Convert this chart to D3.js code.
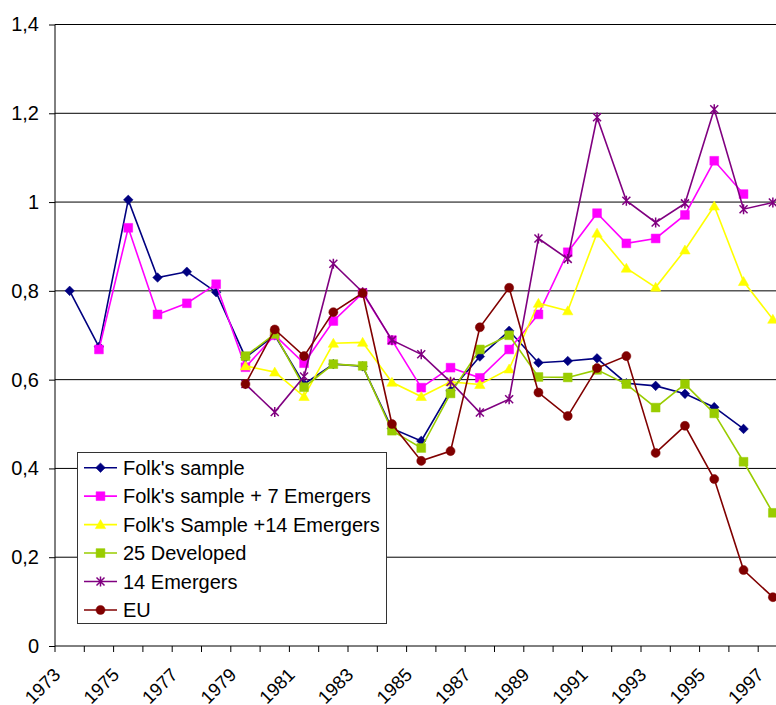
<!DOCTYPE html>
<html>
<head>
<meta charset="utf-8">
<script src="https://cdn.jsdelivr.net/npm/d3@7"></script>
<style>
  body { margin: 0; background: #fff; }
  text { font-family: "Liberation Sans", Arial, sans-serif; fill: #000; }
</style>
</head>
<body>
<script>
// categories
var years = d3.range(1973, 1998);
var yTicks = [0, 0.2, 0.4, 0.6, 0.8, 1.0, 1.2, 1.4];

// series values (null = no data)
var folk = [0.80, 0.674, 1.005, 0.83, 0.843, 0.797, 0.65, 0.70, 0.59, 0.635, 0.63, 0.49, 0.462, 0.575, 0.652, 0.71, 0.638, 0.642, 0.648, 0.592, 0.586, 0.568, 0.538, 0.489, null];
var folk7 = [null, 0.668, 0.942, 0.747, 0.772, 0.815, 0.628, 0.70, 0.637, 0.732, 0.795, 0.689, 0.582, 0.627, 0.604, 0.668, 0.747, 0.887, 0.975, 0.907, 0.918, 0.971, 1.093, 1.018, null];
var folk14 = [null, null, null, null, null, null, 0.631, 0.617, 0.562, 0.682, 0.684, 0.594, 0.562, 0.595, 0.589, 0.624, 0.772, 0.755, 0.93, 0.851, 0.808, 0.892, 0.991, 0.821, 0.736];
var developed = [null, null, null, null, null, null, 0.653, 0.703, 0.583, 0.635, 0.631, 0.485, 0.446, 0.569, 0.668, 0.70, 0.606, 0.605, 0.622, 0.59, 0.537, 0.59, 0.524, 0.415, 0.30];
var emergers = [null, null, null, null, null, null, 0.59, 0.527, 0.607, 0.861, 0.797, 0.689, 0.657, 0.595, 0.526, 0.556, 0.918, 0.872, 1.191, 1.003, 0.954, 0.997, 1.209, 0.984, 0.999];
var eu = [null, null, null, null, null, null, 0.59, 0.713, 0.653, 0.752, 0.795, 0.50, 0.417, 0.439, 0.718, 0.807, 0.571, 0.518, 0.626, 0.653, 0.435, 0.496, 0.376, 0.171, 0.11];

var series = [
  {name: "Folk's sample", values: folk, color: "#000080", marker: "diamond"},
  {name: "Folk's sample + 7 Emergers", values: folk7, color: "#FF00FF", marker: "square"},
  {name: "Folk's Sample +14 Emergers", values: folk14, color: "#FFFF00", marker: "triangle"},
  {name: "25 Developed", values: developed, color: "#99CC00", marker: "square"},
  {name: "14 Emergers", values: emergers, color: "#800080", marker: "star"},
  {name: "EU", values: eu, color: "#800000", marker: "circle"}
];

var width = 776, height = 705;
var plotLeft = 55, plotTop = 24.5, plotBottom = 646;
var step = 29.3;

var x = d3.scaleBand()
    .domain(years)
    .range([plotLeft, plotLeft + step * years.length])
    .padding(0);

var y = d3.scaleLinear()
    .domain([0, 1.4])
    .range([plotBottom, plotTop]);

var cx = function(yr) { return x(yr) + x.bandwidth() / 2; };

var svg = d3.select("body").append("svg")
    .attr("width", width)
    .attr("height", height);

// gridlines
svg.append("g").selectAll("line")
    .data(yTicks.filter(function(d) { return d > 0; }))
    .enter().append("line")
    .attr("x1", plotLeft).attr("x2", width)
    .attr("y1", function(d) { return y(d); })
    .attr("y2", function(d) { return y(d); })
    .attr("stroke", "#000")
    .attr("stroke-width", 1);

// y axis
var yAxis = svg.append("g")
    .attr("transform", "translate(" + plotLeft + ",0)")
    .call(d3.axisLeft(y)
        .tickValues(yTicks)
        .tickSize(6)
        .tickPadding(10)
        .tickFormat(function(d) { return String(+d.toFixed(1)).replace(".", ","); }));
yAxis.select(".domain").attr("stroke", "#000").attr("d", "M0," + plotTop + "V" + plotBottom);
yAxis.selectAll(".tick line").attr("stroke", "#000");
yAxis.selectAll("text").style("font-size", "20px").attr("font-family", null);

// x axis line
svg.append("line")
    .attr("x1", plotLeft).attr("x2", width)
    .attr("y1", plotBottom).attr("y2", plotBottom)
    .attr("stroke", "#000");

// x ticks at category boundaries
svg.append("g").selectAll("line")
    .data(years)
    .enter().append("line")
    .attr("x1", function(d) { return x(d); })
    .attr("x2", function(d) { return x(d); })
    .attr("y1", plotBottom).attr("y2", plotBottom + 6)
    .attr("stroke", "#000");

// x labels, every other year, rotated
svg.append("g").selectAll("text")
    .data(years.filter(function(d) { return d % 2 === 1; }))
    .enter().append("text")
    .attr("transform", function(d) { return "translate(" + (cx(d) - 8) + "," + (plotBottom + 30) + ") rotate(-45)"; })
    .attr("text-anchor", "end")
    .style("font-size", "18.5px")
    .text(function(d) { return d; });

// markers
function markerPath(type) {
  if (type === "diamond") return "M0,-4.8L4.8,0L0,4.8L-4.8,0Z";
  if (type === "square") return "M-4.4,-4.4H4.4V4.4H-4.4Z";
  if (type === "triangle") return "M0,-5L5.2,4H-5.2Z";
  if (type === "circle") return d3.symbol(d3.symbolCircle, 64)();
  return "M-4,-4L4,4M-4,4L4,-4M0,-5V5";
}

function drawMarker(sel, s) {
  if (s.marker === "star") {
    sel.append("path").attr("d", markerPath("star"))
        .attr("fill", "none").attr("stroke", s.color).attr("stroke-width", 1.5);
  } else {
    sel.append("path").attr("d", markerPath(s.marker))
        .attr("fill", s.color).attr("stroke", s.color).attr("stroke-width", 0.5);
  }
}

var line = d3.line()
    .defined(function(d) { return d.v != null; })
    .x(function(d) { return cx(d.year); })
    .y(function(d) { return y(d.v); });

series.forEach(function(s) {
  var pts = years.map(function(yr, i) { return {year: yr, v: s.values[i]}; });
  var g = svg.append("g");
  g.append("path")
      .attr("d", line(pts))
      .attr("fill", "none")
      .attr("stroke", s.color)
      .attr("stroke-width", 1.6);
  g.selectAll("g.pt")
      .data(pts.filter(function(d) { return d.v != null; }))
      .enter().append("g")
      .attr("class", "pt")
      .attr("transform", function(d) { return "translate(" + cx(d.year) + "," + y(d.v) + ")"; })
      .each(function() { drawMarker(d3.select(this), s); });
});

// legend
var legend = svg.append("g");
legend.append("rect")
    .attr("x", 77.5).attr("y", 452.5)
    .attr("width", 309).attr("height", 171)
    .attr("fill", "#fff")
    .attr("stroke", "#333");

var item = legend.selectAll("g.item")
    .data(series)
    .enter().append("g")
    .attr("class", "item")
    .attr("transform", function(d, i) { return "translate(0," + (467.7 + i * 28.45) + ")"; });

item.append("line")
    .attr("x1", 84).attr("x2", 117)
    .attr("stroke", function(d) { return d.color; })
    .attr("stroke-width", 1.6);

item.append("g")
    .attr("transform", "translate(100.5,0)")
    .each(function(d) { drawMarker(d3.select(this), d); });

item.append("text")
    .attr("x", 123)
    .attr("dy", "0.36em")
    .style("font-size", "20px")
    .text(function(d) { return d.name; });
</script>
</body>
</html>
